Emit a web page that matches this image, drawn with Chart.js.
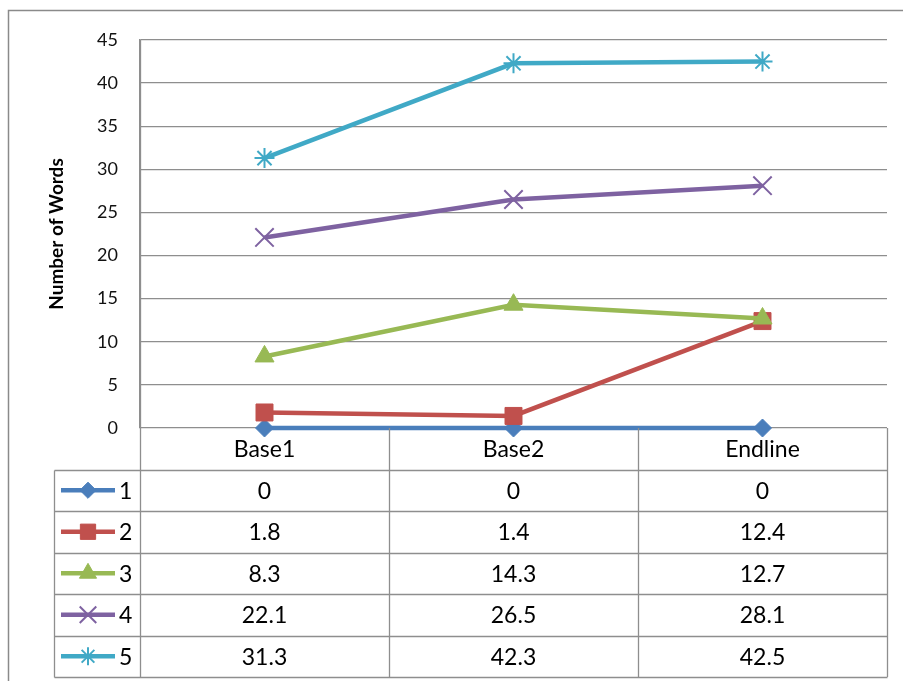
<!DOCTYPE html>
<html>
<head>
<meta charset="utf-8">
<script src="https://cdn.jsdelivr.net/npm/chart.js@4/dist/chart.umd.min.js"></script>
<style>
  html, body { margin: 0; padding: 0; background: #ffffff; }
  #wrap { width: 903px; height: 681px; }
</style>
</head>
<body>
<div id="wrap"><canvas id="c" width="903" height="681"></canvas></div>
<script>
// Measurement points
const categories = ['Base1', 'Base2', 'Endline'];

// Series labels (one per group)
const seriesNames = ['1', '2', '3', '4', '5'];

// Mean number of words per group at each measurement point
const series1 = [0, 0, 0];
const series2 = [1.8, 1.4, 12.4];
const series3 = [8.3, 14.3, 12.7];
const series4 = [22.1, 26.5, 28.1];
const series5 = [31.3, 42.3, 42.5];

// Value axis
const yTicks = [0, 5, 10, 15, 20, 25, 30, 35, 40, 45];
const yTitle = 'Number of Words';

const allSeries = [series1, series2, series3, series4, series5];
const colors = ['#4A7EBB', '#C0504D', '#98B954', '#7E62A1', '#40A9C6'];
const markers = ['rectRot', 'rect', 'triangle', 'crossRot', 'star'];
const radii = [9, 12, 11, 13, 10];
const markerWidths = [1, 1, 1, 2, 2];

const FONT = 'Lato, "Open Sans", sans-serif';
const GRID = '#8e8e8e';
const ROW_H = 41.5;
const TABLE_LEFT = 54;

const datasets = allSeries.map((vals, i) => ({
  label: seriesNames[i],
  data: vals,
  borderColor: colors[i],
  backgroundColor: colors[i],
  borderWidth: 4.5,
  pointStyle: markers[i],
  pointRadius: radii[i],
  pointHoverRadius: radii[i],
  pointBorderWidth: markerWidths[i],
  pointBorderColor: colors[i],
  pointBackgroundColor: colors[i],
  tension: 0,
  clip: false,
  order: allSeries.length - i
}));

// Frame, value axis extension and the data table under the plot
const tablePlugin = {
  id: 'dataTable',
  afterDraw(chart) {
    const ctx = chart.ctx;
    const area = chart.chartArea;
    const x = chart.scales.x;
    const top = area.bottom;
    const rows = seriesNames.length;
    const bottom = top + ROW_H * (rows + 1);
    const step = x.getPixelForTick(1) - x.getPixelForTick(0);
    const colEdges = [Math.round(area.left) + 0.5];
    for (let i = 1; i < categories.length; i++) {
      colEdges.push(Math.round(x.getPixelForTick(i) - step / 2) + 0.5);
    }
    colEdges.push(Math.round(area.right) + 0.5);

    ctx.save();
    // outer chart frame
    ctx.strokeStyle = '#8a8a8a';
    ctx.lineWidth = 1.5;
    ctx.strokeRect(8.5, 10.5, 1200, 1200);

    ctx.strokeStyle = GRID;
    ctx.lineWidth = 1.3;
    ctx.beginPath();
    // value axis line down through the table
    ctx.moveTo(colEdges[0], area.top);
    ctx.lineTo(colEdges[0], bottom);
    // category column dividers and right edge
    for (let i = 1; i < colEdges.length; i++) {
      ctx.moveTo(colEdges[i], top);
      ctx.lineTo(colEdges[i], bottom);
    }
    // row lines
    for (let r = 1; r <= rows + 1; r++) {
      const y = Math.round(top + ROW_H * r) + 0.5;
      ctx.moveTo(TABLE_LEFT + 0.5, y);
      ctx.lineTo(colEdges[colEdges.length - 1], y);
    }
    // legend column left edge
    ctx.moveTo(TABLE_LEFT + 0.5, Math.round(top + ROW_H) + 0.5);
    ctx.lineTo(TABLE_LEFT + 0.5, Math.round(bottom) + 0.5);
    ctx.stroke();

    // values and legend keys
    ctx.font = '23px ' + FONT;
    ctx.textBaseline = 'middle';
    for (let r = 0; r < rows; r++) {
      const cy = top + ROW_H * (r + 1.5);
      // legend key
      ctx.strokeStyle = colors[r];
      ctx.lineWidth = 4.5;
      ctx.beginPath();
      ctx.moveTo(61, cy);
      ctx.lineTo(115, cy);
      ctx.stroke();
      ctx.fillStyle = colors[r];
      ctx.strokeStyle = colors[r];
      ctx.lineWidth = markerWidths[r];
      Chart.helpers.drawPoint(ctx, {
        pointStyle: markers[r],
        radius: radii[r] * 0.9,
        rotation: 0,
        borderWidth: markerWidths[r]
      }, 88, cy);
      ctx.fillStyle = '#000';
      ctx.textAlign = 'left';
      ctx.fillText(seriesNames[r], 119, cy + 1);
      // values
      ctx.textAlign = 'center';
      allSeries[r].forEach((v, c) => {
        ctx.fillText(String(v), x.getPixelForTick(c), cy + 1);
      });
    }
    ctx.restore();
  }
};

new Chart(document.getElementById('c'), {
  type: 'line',
  data: { labels: categories, datasets },
  plugins: [tablePlugin],
  options: {
    responsive: false,
    animation: false,
    events: [],
    layout: { padding: { left: 0, top: 40, right: 16, bottom: 0 } },
    plugins: { legend: { display: false }, tooltip: { enabled: false } },
    scales: {
      x: {
        type: 'category',
        offset: true,
        grid: { display: false, drawTicks: false },
        border: { display: false },
        ticks: {
          color: '#000',
          font: { family: FONT, size: 23 },
          padding: 8,
          maxRotation: 0,
          autoSkip: false
        },
        afterFit(scale) { scale.height = 253; }
      },
      y: {
        min: 0,
        max: 45,
        afterBuildTicks(scale) { scale.ticks = yTicks.map(v => ({ value: v })); },
        grid: { color: GRID, lineWidth: 1.3, drawTicks: false },
        border: { display: true, color: GRID, width: 1.3 },
        ticks: {
          color: '#111',
          font: { family: FONT, size: 18 },
          padding: 22
        },
        title: {
          display: true,
          text: yTitle,
          color: '#000',
          font: { family: FONT, size: 19, weight: 'bold' },
          padding: { top: 45, bottom: 0 }
        },
        afterFit(scale) { scale.width = 140; }
      }
    }
  }
});
</script>
</body>
</html>
